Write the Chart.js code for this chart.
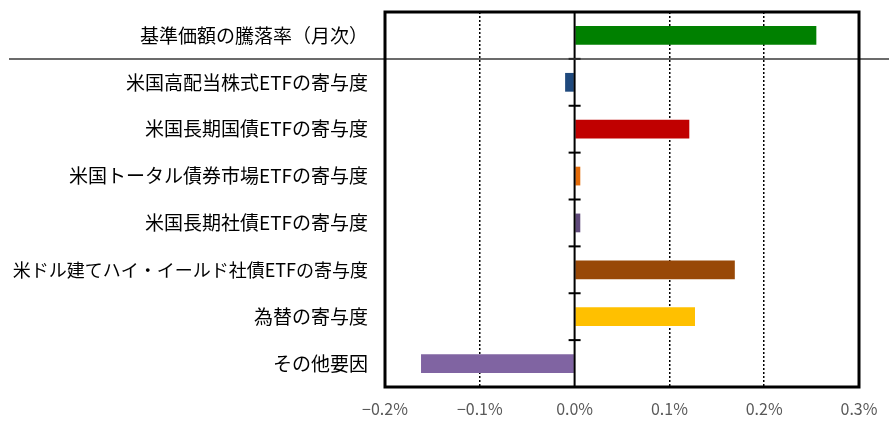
<!DOCTYPE html>
<html>
<head>
<meta charset="utf-8">
<script src="https://cdn.jsdelivr.net/npm/chart.js@4.4.0/dist/chart.umd.min.js"></script>
<style>
    html, body { margin: 0; padding: 0; background: #fff; }
    #wrap { width: 889px; height: 423px; }
</style>
</head>
<body>
<div id="wrap"><canvas id="chart"></canvas></div>
<script>
// Data
const categories = [
    '基準価額の騰落率（月次）',
    '米国高配当株式ETFの寄与度',
    '米国長期国債ETFの寄与度',
    '米国トータル債券市場ETFの寄与度',
    '米国長期社債ETFの寄与度',
    '米ドル建てハイ・イールド社債ETFの寄与度',
    '為替の寄与度',
    'その他要因'
];
const values = [0.255, -0.010, 0.121, 0.006, 0.006, 0.169, 0.127, -0.162];
const barColors = ['#008000', '#1F497D', '#C00000', '#E46C0A', '#604A7B', '#984807', '#FFC000', '#8064A2'];
const xTicks = [-0.2, -0.1, 0.0, 0.1, 0.2, 0.3];

const labelFont = "'Noto Sans CJK JP', 'Noto Sans', sans-serif";

// Separator line, zero line with ticks, and plot frame
const decorations = {
    id: 'decorations',
    afterDatasetsDraw(chart) {
        const { ctx, chartArea: a, scales } = chart;
        const x0 = scales.x.getPixelForValue(0);
        const step = (a.bottom - a.top) / categories.length;
        ctx.save();

        // zero line
        ctx.strokeStyle = '#000';
        ctx.lineWidth = 2;
        ctx.beginPath();
        ctx.moveTo(x0, a.top);
        ctx.lineTo(x0, a.bottom);
        ctx.stroke();

        // small ticks on zero line between categories
        for (let i = 1; i < categories.length; i++) {
            const y = a.top + step * i;
            ctx.beginPath();
            ctx.moveTo(x0 - 6, y);
            ctx.lineTo(x0 + 6, y);
            ctx.stroke();
        }

        // separator under the first row
        const ySep = a.top + step;
        ctx.strokeStyle = '#3a3a3a';
        ctx.lineWidth = 1.5;
        ctx.beginPath();
        ctx.moveTo(9, ySep);
        ctx.lineTo(chart.width, ySep);
        ctx.stroke();

        // plot frame
        ctx.strokeStyle = '#000';
        ctx.lineWidth = 3;
        ctx.strokeRect(a.left, a.top, a.right - a.left, a.bottom - a.top);
        ctx.restore();
    }
};

function initChart() {
    const ctx = document.getElementById('chart').getContext('2d');
    new Chart(ctx, {
        type: 'bar',
        data: {
            labels: categories,
            datasets: [{
                data: values,
                backgroundColor: barColors,
                borderWidth: 0,
                barPercentage: 0.4,
                categoryPercentage: 1.0
            }]
        },
        options: {
            indexAxis: 'y',
            responsive: true,
            maintainAspectRatio: false,
            animation: false,
            layout: {
                padding: { top: 12, right: 30, bottom: 0, left: 0 }
            },
            plugins: {
                legend: { display: false },
                tooltip: { enabled: false }
            },
            scales: {
                x: {
                    min: -0.2,
                    max: 0.3,
                    afterBuildTicks(scale) {
                        scale.ticks = xTicks.map(v => ({ value: v }));
                    },
                    afterFit(scale) {
                        scale.height = 36;
                        scale.paddingLeft = 0;
                        scale.paddingRight = 0;
                    },
                    grid: {
                        drawTicks: false,
                        color: ctx => {
                            const v = ctx.tick ? ctx.tick.value : null;
                            if (v === null || Math.abs(v) < 1e-9 || v <= -0.2 + 1e-9 || v >= 0.3 - 1e-9) return 'rgba(0,0,0,0)';
                            return '#000';
                        },
                        lineWidth: 1.5
                    },
                    border: { display: false, dash: [2, 2] },
                    ticks: {
                        padding: 12,
                        color: '#595959',
                        font: { family: labelFont, size: 16 },
                        callback: v => (v < 0 ? '\u2212' : '') + Math.abs(v).toFixed(1) + '%'
                    }
                },
                y: {
                    afterFit(scale) {
                        scale.width = 385;
                        scale.paddingTop = 0;
                        scale.paddingBottom = 0;
                    },
                    grid: { display: false, drawTicks: false },
                    border: { display: false },
                    ticks: {
                        padding: 17,
                        color: '#000',
                        // the longest label is a little smaller so it fits on the canvas
                        font: ctx => ({
                            family: labelFont,
                            size: (categories[ctx.index] || '').length > 20 ? 18 : 19
                        })
                    }
                }
            }
        },
        plugins: [decorations]
    });
}

document.addEventListener('DOMContentLoaded', initChart);
</script>
</body>
</html>
